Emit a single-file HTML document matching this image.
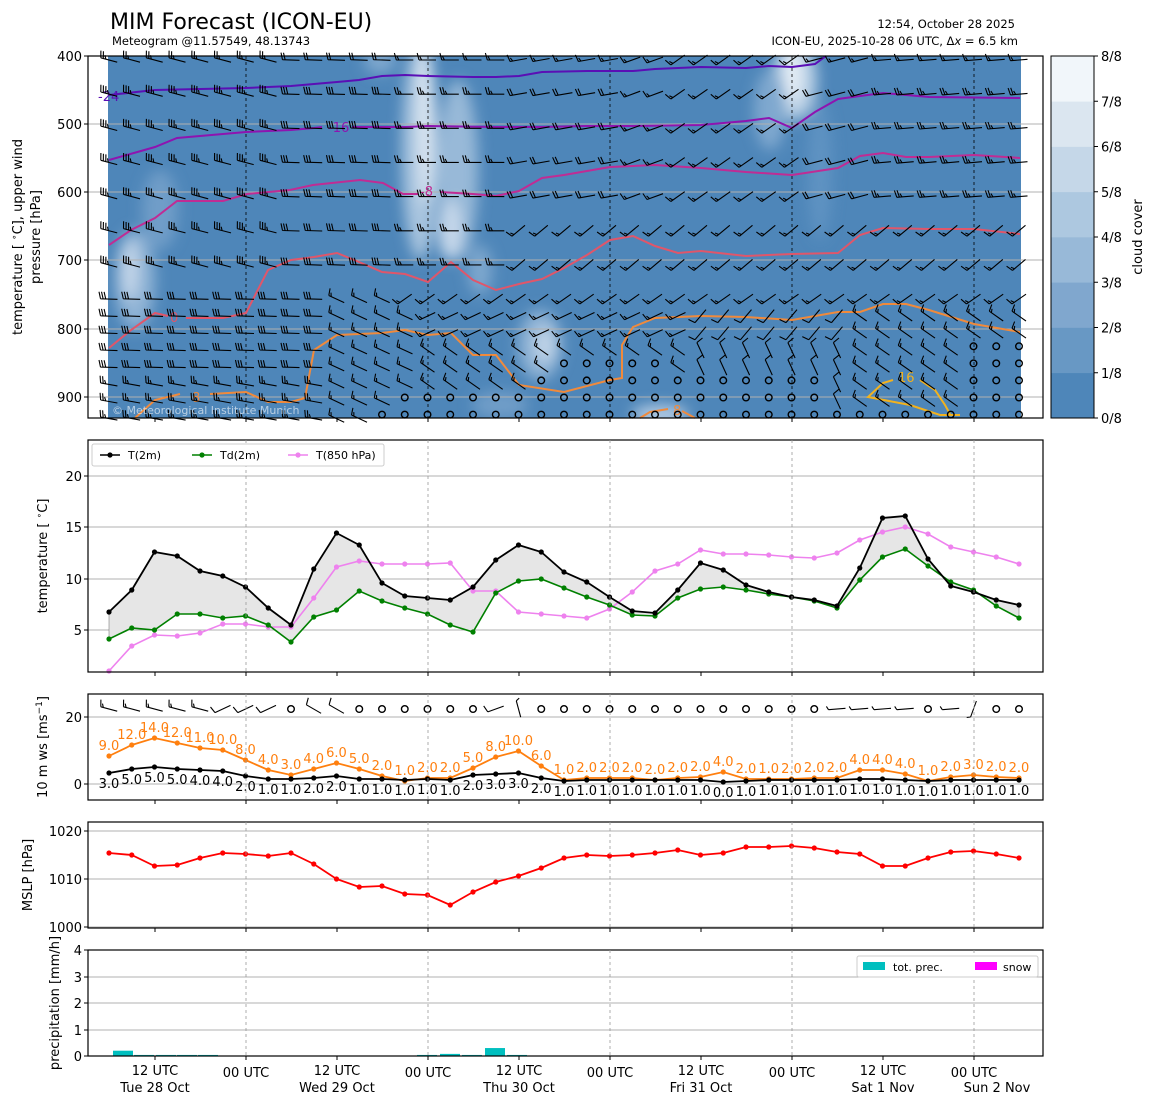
<!DOCTYPE html>
<html><head><meta charset="utf-8">
<style>
html,body{margin:0;padding:0;background:#fff;}
svg{display:block;font-family:"DejaVu Sans","Liberation Sans",sans-serif;}
</style></head>
<body>
<svg id="s" width="1155" height="1105" viewBox="0 0 1155 1105" xmlns="http://www.w3.org/2000/svg">
<defs>
<filter id="bl" x="-50%" y="-50%" width="200%" height="200%"><feGaussianBlur stdDeviation="7"/></filter>
<clipPath id="c1"><rect x="108" y="56" width="913" height="362"/></clipPath>
</defs>
<g id="g"></g>
</svg>
<script>
var o=[];
function X(i){return 109+22.75*i;}
function P(p){return 56+(p-400)*0.683;}
function t(x,y,s,size,anchor,fill,extra){o.push('<text x="'+x+'" y="'+y+'" font-size="'+size+'" text-anchor="'+(anchor||'start')+'" fill="'+(fill||'#000')+'" '+(extra||'')+'>'+s+'</text>');}
function line(x1,y1,x2,y2,st){o.push('<line x1="'+x1+'" y1="'+y1+'" x2="'+x2+'" y2="'+y2+'" style="'+st+'"/>');}
function poly(pts,st){o.push('<polyline points="'+pts.map(function(p){return p[0]+','+p[1];}).join(' ')+'" style="fill:none;'+st+'"/>');}
var days=[246,428,610,792,974];
t(110,29,'MIM Forecast (ICON-EU)',22);
t(112,45,'Meteogram @11.57549, 48.13743',11.5);
t(1015,28,'12:54, October 28 2025',11.5,'end');
t(1018,45,'ICON-EU, 2025-10-28 06 UTC, Δ<tspan font-style="italic">x</tspan> = 6.5 km',11.5,'end');
// ===== panel 1
o.push('<rect x="108" y="56" width="913" height="362" fill="#4e86b9"/>');
o.push('<g clip-path="url(#c1)"><g filter="url(#bl)">');
var cl=[[135,280,20,50,'#8fb3d5'],[130,270,8,30,'#c5d7ea'],[160,210,18,40,'#6f9dc8'],[420,150,18,110,'#a9c5df'],[425,120,7,85,'#dfe9f3'],[458,170,20,90,'#98b9d8'],[450,230,12,30,'#c5d7ea'],[480,270,12,25,'#7ea7ce'],[540,345,22,35,'#8fb3d5'],[545,345,10,18,'#c0d4e8'],[795,80,22,40,'#b9d0e5'],[793,75,8,28,'#e8f0f7'],[770,110,16,40,'#7fa8cf'],[820,170,12,70,'#5f93c2'],[500,405,28,14,'#6f9dc8'],[660,415,28,10,'#b3cbe3'],[380,60,16,14,'#7ea7ce']];
cl.forEach(function(c){o.push('<ellipse cx="'+c[0]+'" cy="'+c[1]+'" rx="'+c[2]+'" ry="'+c[3]+'" fill="'+c[4]+'"/>');});
o.push('</g></g>');
[124,192,260,329,397].forEach(function(y){line(88,y,1043,y,'stroke:#b0b0b0;stroke-width:1');});
days.forEach(function(x){line(x,56,x,418,'stroke:#000;stroke-width:0.8;stroke-dasharray:3,3');});
poly([[109,95],[155,90],[246,88],[291,86],[337,82],[359,80],[382,76],[405,75],[428,76],[473,77],[496,77],[519,76],[542,72],[587,71],[633,71],[655,69],[701,67],[746,68],[769,66],[792,67],[815,64],[826,56]],'stroke:#5a0fb5;stroke-width:2');
poly([[109,160],[155,147],[177,138],[246,132],[291,130],[314,128],[322,127]],'stroke:#8e14b0;stroke-width:2');
poly([[352,127],[405,127],[428,126],[496,127],[542,127],[587,126],[633,126],[701,125],[746,121],[769,118],[792,128],[815,112],[838,99],[860,96],[883,93],[929,97],[1020,98]],'stroke:#8e14b0;stroke-width:2');
poly([[109,245],[131,230],[155,218],[177,201],[223,201],[247,194],[290,190],[313,185],[360,180],[383,183],[403,194],[418,194]],'stroke:#c02c94;stroke-width:2');
poly([[440,192],[473,194],[496,196],[519,191],[542,178],[564,175],[587,171],[610,167],[655,165],[701,168],[746,172],[792,175],[838,168],[860,156],[883,153],[906,157],[929,157],[974,155],[1020,158]],'stroke:#c02c94;stroke-width:2');
poly([[109,348],[131,330],[155,313],[168,316]],'stroke:#e0566a;stroke-width:2');
poly([[186,318],[223,318],[246,313],[268,270],[291,260],[314,257],[337,253],[359,262],[382,272],[405,274],[428,282],[451,262],[473,280],[496,290],[519,284],[542,279],[564,268],[587,255],[610,240],[633,236],[655,246],[678,253],[701,251],[746,256],[792,254],[838,253],[860,235],[883,228],[929,229],[974,229],[1020,234]],'stroke:#e0566a;stroke-width:2');
poly([[135,418],[155,400],[180,394]],'stroke:#f08a3c;stroke-width:2');
poly([[210,394],[246,392],[268,402],[291,402],[305,398],[314,350],[337,335],[382,333],[405,330],[428,335],[451,333],[473,355],[496,355],[519,385],[564,392],[610,380],[622,378],[622,345],[633,327],[655,318],[701,316],[746,317],[792,320],[838,312],[860,312],[883,304],[906,304],[929,310],[974,324],[1020,332]],'stroke:#f08a3c;stroke-width:2');
poly([[640,418],[650,412],[668,409]],'stroke:#f08a3c;stroke-width:2');
poly([[682,411],[695,418]],'stroke:#f08a3c;stroke-width:2');
poly([[893,380],[883,383],[868,397],[910,405],[940,415],[960,415]],'stroke:#f2b21e;stroke-width:2');
poly([[920,380],[935,390],[945,405],[950,414]],'stroke:#f2b21e;stroke-width:2');
t(98,101,'-24',13,'start','#5a0fb5');t(328,132,'-16',13,'start','#8e14b0');t(420,196,'-8',13,'start','#c02c94');
t(170,322,'0',13,'start','#e0566a');t(192,402,'8',13,'start','#f08a3c');t(673,415,'8',13,'start','#f08a3c');t(898,382,'16',13,'start','#f2b21e');
// barbs: pivot middle, staff toward source, ticks at source end
function barb(x,y,th,n){
 var r=th*Math.PI/180,ux=Math.cos(r),uy=-Math.sin(r),L=17;
 var sx=x-ux*L/2,sy=y-uy*L/2,ex=x+ux*L/2,ey=y+uy*L/2;
 var s='<path d="M'+sx.toFixed(1)+' '+sy.toFixed(1)+'L'+ex.toFixed(1)+' '+ey.toFixed(1);
 var qx=uy,qy=-ux; if(qy>0||(qy==0&&qx>0)){qx=-qx;qy=-qy;}
 var full=Math.floor(n),half=(n%1)>0;
 for(var k=0;k<full+(half?1:0);k++){var bx=ex-ux*2.6*k,by=ey-uy*2.6*k;var len=(k>=full)?3.5:7;
  s+='M'+bx.toFixed(1)+' '+by.toFixed(1)+'L'+(bx+qx*len+ux*1.8).toFixed(1)+' '+(by+qy*len+uy*1.8).toFixed(1);}
 s+='"/>';o.push(s);}
function circ(x,y){o.push('<circle cx="'+x+'" cy="'+y+'" r="3.3" fill="none" stroke="#000" stroke-width="1.4"/>');}
o.push('<g style="fill:none;stroke:#000;stroke-width:1.1">');
var lev=[400,450,500,550,600,650,700,750,775,800,825,850,875,900,925];
for(var i=0;i<41;i++){lev.forEach(function(p){
 var x=X(i),y=P(p)+4,th,n;
 if(p<=700){
  if(i<8){th=165;n=3.5;} else if(i<13){th=178;n=3;} else if(i<18){th=180;n=2.5;} else if(i<23){th=190;n=2;} else if(i<25){th=200;n=1.5;} else if(i<31){th=215;n=1.5;} else if(i<34){th=195;n=2;} else {th=185;n=2.5;}
  if(p>=650&&i>=18){th=220;n=1.5;}
  if(p==400)n=Math.max(1.5,n-1);
 } else {
  var calm=false;
  if(p==925&&i>=12)calm=true;
  if(p>=900&&i>=13&&i<=31)calm=true;
  if(p>=875&&i>=19&&i<=31)calm=true;
  if(p>=850&&i>=20&&i<=24)calm=true;
  if(p>=850&&i>=38)calm=true;
  if(p>=825&&i>=38)calm=true;
  if(calm){circ(x,P(p));return;}
  if(i<10){th=(p>=875?170:178);n=(p>=875?2.5:3);} else if(i<14){th=155;n=1.5;} else if(i<26){th=(p>=825?145:205);n=1.5;} else if(i<33){th=(p>=825?115:230);n=1;} else {th=145;n=1.5;}
  if(p==750&&i>=13){th=215;n=1.5;}
 }
 barb(x,y,th,n);
});}
o.push('</g>');
t(112,414,'© Meteorological Institute Munich',11,'start','rgba(255,255,255,0.6)');
o.push('<rect x="88" y="56" width="955" height="362" fill="none" stroke="#000" stroke-width="1.2"/>');
[[400,56],[500,124],[600,192],[700,260],[800,329],[900,397]].forEach(function(a){line(84,a[1],88,a[1],'stroke:#000');t(82,a[1]+5,a[0],13,'end');});
days.concat([155,337,519,701,883]).forEach(function(x){line(x,418,x,422,'stroke:#000');});
o.push('<text transform="translate(22,237) rotate(-90)" font-size="13" text-anchor="middle">temperature [ <tspan font-size="9" dy="-5">∘</tspan><tspan dy="5">C], upper wind</tspan></text>');
o.push('<text transform="translate(40,237) rotate(-90)" font-size="13" text-anchor="middle">pressure [hPa]</text>');
var cc=['#4e86b9','#6898c4','#80a7ce','#98b9d8','#adc8e0','#c5d7e8','#dbe6f0','#f1f6fa'];
for(var k=0;k<8;k++){var y1=418-(k+1)*45.25;o.push('<rect x="1051" y="'+y1+'" width="43" height="45.6" fill="'+cc[k]+'"/>');}
o.push('<rect x="1051" y="56" width="43" height="362" fill="none" stroke="#000" stroke-width="1"/>');
for(var k=0;k<=8;k++){var y=418-k*45.25;line(1094,y,1098,y,'stroke:#000');t(1101,y+5,k+'/8',13);}
o.push('<text transform="translate(1142,237) rotate(-90)" font-size="13" text-anchor="middle">cloud cover</text>');
// ===== panel 2
function frame(y1,y2){o.push('<rect x="88" y="'+y1+'" width="955" height="'+(y2-y1)+'" fill="none" stroke="#000" stroke-width="1.2"/>');
 days.forEach(function(x){line(x,y1,x,y2,'stroke:#999;stroke-width:0.8;stroke-dasharray:3,3');});
 days.concat([155,337,519,701,883]).forEach(function(x){line(x,y2,x,y2+4,'stroke:#000');});}
function grid(ys,labs){ys.forEach(function(y,k){line(88,y,1043,y,'stroke:#b0b0b0;stroke-width:1');line(84,y,88,y,'stroke:#000');t(82,y+5,labs[k],13,'end');});}
grid([476,527,579,630],['20','15','10','5']);
var T=[612,590,552,556,571,576,587,608,625,569,533,545,583,596,598,600,587,560,545,552,572,582,597,611,613,590,563,570,585,592,597,600,606,568,518,516,559,586,592,600,605];
var D=[639,628,630,614,614,618,616,625,642,617,610,591,601,608,614,625,632,593,581,579,588,597,605,615,616,598,589,587,590,594,597,601,608,580,557,549,566,582,590,606,618];
var V=[671,646,635,636,633,624,624,627,627,598,567,561,564,564,564,563,591,591,612,614,616,618,609,592,571,564,550,554,554,555,557,558,553,540,532,527,534,547,552,557,564];
function pts(a){return a.map(function(y,i){return [X(i),y];});}
var fp=pts(T).concat(pts(D).reverse());
o.push('<polygon points="'+fp.map(function(p){return p.join(',');}).join(' ')+'" fill="#e6e6e6" stroke="#666" stroke-width="0.5"/>');
function series(a,col,w){poly(pts(a),'stroke:'+col+';stroke-width:'+w);a.forEach(function(y,i){o.push('<circle cx="'+X(i)+'" cy="'+y+'" r="2.6" fill="'+col+'"/>');});}
series(V,'#ee82ee',1.6);series(D,'#008000',1.6);series(T,'#000',1.8);
frame(440,672);
o.push('<rect x="92" y="444" width="292" height="22" fill="#fff" stroke="#ccc" rx="2"/>');
[[100,'#000','T(2m)'],[192,'#008000','Td(2m)'],[288,'#ee82ee','T(850 hPa)']].forEach(function(l){line(l[0],455,l[0]+20,455,'stroke:'+l[1]+';stroke-width:1.6');o.push('<circle cx="'+(l[0]+10)+'" cy="455" r="2.6" fill="'+l[1]+'"/>');t(l[0]+28,459,l[2],11);});
o.push('<text transform="translate(47,556) rotate(-90)" font-size="13" text-anchor="middle">temperature [ <tspan font-size="9" dy="-5">∘</tspan><tspan dy="5">C]</tspan></text>');
// ===== panel 3
grid([717,784],['20','0']);
var G=[756,745,738,743,748,750,760,770,775,769,763,769,776,781,778,778,768,757,751,766,780,778,778,778,780,778,777,772,779,779,779,778,778,770,770,774,781,777,775,777,778];
var GL=[9,12,14,12,11,10,8,4,3,4,6,5,2,1,2,2,5,8,10,6,1,2,2,2,2,2,2,4,2,1,2,2,2,4,4,4,1,2,3,2,2];
var W=[3,5,5,5,4,4,2,1,1,2,2,1,1,1,1,1,2,3,3,2,1,1,1,1,1,1,1,0,1,1,1,1,1,1,1,1,1,1,1,1,1];
var WY=[773,769,767,769,770,771,776,779,779,778,776,779,779,780,779,780,775,774,773,778,781,780,780,780,780,780,780,782,781,780,780,780,780,779,779,780,781,780,780,780,780];
series(G,'#ff7f0e',1.8);series(WY,'#000',1.8);
G.forEach(function(y,i){t(X(i),y-6,GL[i]+'.0',13,'middle','#ff7f0e');});
WY.forEach(function(y,i){t(X(i),y+15,W[i]+'.0',13,'middle','#000');});
o.push('<g style="fill:none;stroke:#000;stroke-width:1.1">');
for(var i=0;i<41;i++){var x=X(i),y=709;
 var calm=(i==8||(i>=11&&i<=16)||(i>=19));
 if(i==17){barb(x,y,200,1);continue;} if(i==18){barb(x,y,105,0.5);continue;}
 if(i>=32&&i<=37&&i!=36){barb(x,y,185,0.5);continue;}
 if(i==38){barb(x,y,250,0.5);continue;}
 if(calm){circ(x,y);continue;}
 if(i<5){barb(x,y,165,1.5);} else if(i<8){barb(x,y,205,1);} else {barb(x,y,150,1);}
}
o.push('</g>');
frame(694,800);
o.push('<text transform="translate(47,747) rotate(-90)" font-size="13" text-anchor="middle">10 m ws [ms<tspan font-size="9" dy="-5">−1</tspan><tspan dy="5">]</tspan></text>');
// ===== panel 4
grid([831,879,927],['1020','1010','1000']);
var M=[853,855,866,865,858,853,854,856,853,864,879,887,886,894,895,905,892,882,876,868,858,855,856,855,853,850,855,853,847,847,846,848,852,854,866,866,858,852,851,854,858];
series(M,'#ff0000',1.8);
frame(822,928);
o.push('<text transform="translate(32,875) rotate(-90)" font-size="13" text-anchor="middle">MSLP [hPa]</text>');
// ===== panel 5
grid([950,977,1003,1030,1056],['4','3','2','1','0']);
[[113,0.2],[134,0.04],[156,0.04],[177,0.04],[198,0.04],[417,0.04],[440,0.08],[462,0.04],[485,0.3],[507,0.04]].forEach(function(b){var h=b[1]*26.5;o.push('<rect x="'+b[0]+'" y="'+(1056-h)+'" width="20" height="'+h+'" fill="#00bfbf"/>');});
frame(950,1056);
o.push('<rect x="857" y="956" width="181" height="21" fill="#fff" stroke="#ccc" rx="2"/>');
o.push('<rect x="863" y="962" width="22" height="8" fill="#00bfbf"/>');t(893,971,'tot. prec.',11);
o.push('<rect x="975" y="962" width="22" height="8" fill="#ff00ff"/>');t(1003,971,'snow',11);
o.push('<text transform="translate(59,1003) rotate(-90)" font-size="13" text-anchor="middle">precipitation [mm/h]</text>');
[[155,'Tue 28 Oct'],[337,'Wed 29 Oct'],[519,'Thu 30 Oct'],[701,'Fri 31 Oct'],[883,'Sat 1 Nov']].forEach(function(a){t(a[0],1075,'12 UTC',13,'middle');t(a[0],1092,a[1],13,'middle');});
days.forEach(function(x){t(x,1077,'00 UTC',13,'middle');});
t(997,1092,'Sun 2 Nov',13,'middle');
document.getElementById('g').innerHTML=o.join('');
</script>
</body></html>
